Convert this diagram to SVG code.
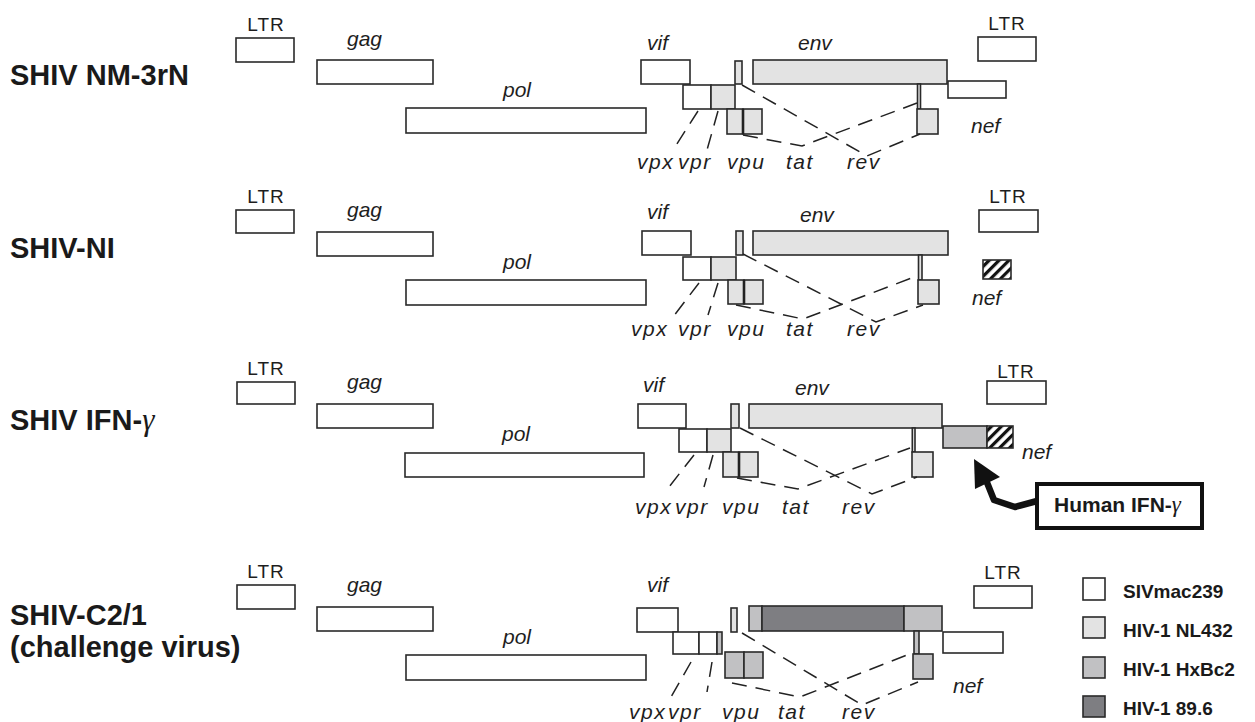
<svg xmlns="http://www.w3.org/2000/svg" width="1255" height="722" viewBox="0 0 1255 722">
<defs>
<style>
.bx{stroke:#2a2a2a;stroke-width:1.6}
.w{fill:#fff}.l{fill:#e3e3e3}.g{fill:#c1c1c3}.d{fill:#7e7e82}
.h{fill:url(#hatch)}
.dv{stroke:#222;stroke-width:2.6}
.dash{fill:none;stroke:#222;stroke-width:1.5;stroke-dasharray:15 9}
.it{font-family:"Liberation Sans",Arial,sans-serif;font-style:italic;font-size:21px;fill:#1e1e1e}
.sp{letter-spacing:1.5px}
.ltr{font-family:"Liberation Sans",Arial,sans-serif;font-size:19px;letter-spacing:1px;fill:#1e1e1e;text-anchor:middle}
.ttl{font-family:"Liberation Sans",Arial,sans-serif;font-weight:bold;font-size:29px;fill:#1a1a1a}
.leg{font-family:"Liberation Sans",Arial,sans-serif;font-weight:bold;font-size:19px;fill:#1a1a1a}
.gam{font-family:"Liberation Serif","Times New Roman",serif;font-style:italic;font-weight:normal}
</style>
<pattern id="hatch" patternUnits="userSpaceOnUse" width="7" height="7" patternTransform="rotate(45)">
<rect width="7" height="7" fill="#fff"/>
<rect width="3.2" height="7" fill="#111"/>
</pattern>
</defs>
<rect width="1255" height="722" fill="#fff"/>

<!-- Titles -->
<g id="title1"><text class="ttl" x="10" y="85">SHIV NM-3rN</text></g>
<g id="title2"><text class="ttl" x="10" y="258">SHIV-NI</text></g>
<g id="title3"><text class="ttl" x="10" y="430">SHIV IFN-<tspan class="gam" style="font-size:31px">γ</tspan></text></g>
<g id="title4"><text class="ttl" x="10" y="625">SHIV-C2/1</text><text class="ttl" x="10" y="657">(challenge virus)</text></g>

<!-- Panel 1 -->
<g id="p1">
<g id="p1-ltrL"><rect class="bx w" x="236" y="38" width="58" height="24"/><text class="ltr" x="266" y="31">LTR</text></g>
<g id="p1-gag"><rect class="bx w" x="317" y="60" width="116" height="24"/><text class="it" x="347" y="46">gag</text></g>
<g id="p1-pol"><rect class="bx w" x="406" y="108" width="240" height="25"/><text class="it" x="503" y="97">pol</text></g>
<g id="p1-vif"><rect class="bx w" x="641" y="60" width="49" height="24"/><text class="it" x="647" y="50">vif</text></g>
<g id="p1-vpx"><rect class="bx w" x="683" y="85" width="28" height="24"/></g>
<g id="p1-vpr"><rect class="bx l" x="711" y="85" width="24" height="24"/></g>
<g id="p1-ex1"><rect class="bx l" x="735" y="61" width="7" height="23"/></g>
<g id="p1-env"><rect class="bx l" x="753" y="60" width="194" height="24"/><text class="it" x="798" y="50">env</text></g>
<g id="p1-vpu"><rect class="bx l" x="727" y="109" width="16" height="25"/><rect class="bx l" x="743" y="109" width="19" height="25"/><line class="dv" x1="743" y1="109" x2="743" y2="134"/></g>
<g id="p1-ex2"><rect class="bx l" x="917.5" y="84" width="3" height="25"/><rect class="bx l" x="917" y="109" width="21" height="25"/></g>
<g id="p1-nef"><rect class="bx w" x="948" y="81" width="58" height="17"/><text class="it" x="971" y="133">nef</text></g>
<g id="p1-ltrR"><rect class="bx w" x="978" y="37" width="58" height="24"/><text class="ltr" x="1007" y="30">LTR</text></g>
<g id="p1-labels"><text class="it sp" x="637" y="169">vpx</text><text class="it sp" x="678" y="169">vpr</text><text class="it sp" x="727" y="169">vpu</text><text class="it sp" x="786" y="169">tat</text><text class="it sp" x="847" y="169">rev</text></g>
</g>

<!-- Panel 2 -->
<g id="p2">
<g id="p2-ltrL"><rect class="bx w" x="236" y="210" width="58" height="23"/><text class="ltr" x="266" y="203">LTR</text></g>
<g id="p2-gag"><rect class="bx w" x="317" y="232" width="116" height="24"/><text class="it" x="347" y="217">gag</text></g>
<g id="p2-pol"><rect class="bx w" x="406" y="280" width="240" height="25"/><text class="it" x="503" y="269">pol</text></g>
<g id="p2-vif"><rect class="bx w" x="642" y="231" width="49" height="24"/><text class="it" x="647" y="219">vif</text></g>
<g id="p2-vpx"><rect class="bx w" x="683" y="257" width="28" height="23"/></g>
<g id="p2-vpr"><rect class="bx l" x="711" y="257" width="25" height="23"/></g>
<g id="p2-ex1"><rect class="bx l" x="736" y="231" width="7" height="24"/></g>
<g id="p2-env"><rect class="bx l" x="753" y="231" width="195" height="24"/><text class="it" x="800" y="222">env</text></g>
<g id="p2-vpu"><rect class="bx l" x="728" y="280" width="16" height="24"/><rect class="bx l" x="744" y="280" width="19" height="24"/><line class="dv" x1="744" y1="280" x2="744" y2="304"/></g>
<g id="p2-ex2"><rect class="bx l" x="918.5" y="255" width="3.5" height="25"/><rect class="bx l" x="918" y="280" width="21" height="24"/></g>
<g id="p2-nef"><rect class="bx h" x="983" y="260" width="28" height="19"/><text class="it" x="972" y="305">nef</text></g>
<g id="p2-ltrR"><rect class="bx w" x="979" y="210" width="59" height="22"/><text class="ltr" x="1008" y="203">LTR</text></g>
<g id="p2-labels"><text class="it sp" x="631" y="336">vpx</text><text class="it sp" x="678" y="336">vpr</text><text class="it sp" x="727" y="336">vpu</text><text class="it sp" x="786" y="336">tat</text><text class="it sp" x="847" y="336">rev</text></g>
</g>

<!-- Panel 3 -->
<g id="p3">
<g id="p3-ltrL"><rect class="bx w" x="237" y="382" width="58" height="22"/><text class="ltr" x="266" y="375">LTR</text></g>
<g id="p3-gag"><rect class="bx w" x="317" y="404" width="116" height="24"/><text class="it" x="347" y="389">gag</text></g>
<g id="p3-pol"><rect class="bx w" x="405" y="453" width="239" height="24"/><text class="it" x="502" y="441">pol</text></g>
<g id="p3-vif"><rect class="bx w" x="638" y="404" width="48" height="24"/><text class="it" x="643" y="392">vif</text></g>
<g id="p3-vpx"><rect class="bx w" x="679" y="429" width="28" height="23"/></g>
<g id="p3-vpr"><rect class="bx l" x="707" y="429" width="24" height="23"/></g>
<g id="p3-ex1"><rect class="bx l" x="731" y="404" width="8" height="24"/></g>
<g id="p3-env"><rect class="bx l" x="749" y="404" width="193" height="24"/><text class="it" x="795" y="395">env</text></g>
<g id="p3-vpu"><rect class="bx l" x="723" y="452" width="16" height="25"/><rect class="bx l" x="739" y="452" width="19" height="25"/><line class="dv" x1="739" y1="452" x2="739" y2="477"/></g>
<g id="p3-ex2"><rect class="bx l" x="912.3" y="428" width="2.7" height="24"/><rect class="bx l" x="912" y="452" width="21" height="25"/></g>
<g id="p3-ifn"><rect class="bx g" x="943" y="426" width="44" height="22"/><rect class="bx h" x="987" y="426" width="26" height="22"/><text class="it" x="1022" y="459">nef</text></g>
<g id="p3-ltrR"><rect class="bx w" x="987" y="381" width="59" height="23"/><text class="ltr" x="1016" y="378">LTR</text></g>
<g id="p3-labels"><text class="it sp" x="635" y="514">vpx</text><text class="it sp" x="675" y="514">vpr</text><text class="it sp" x="722" y="514">vpu</text><text class="it sp" x="782" y="514">tat</text><text class="it sp" x="842" y="514">rev</text></g>
<g id="p3-callout"><rect x="1037" y="484" width="165" height="44" fill="#fff" stroke="#111" stroke-width="4"/><text class="leg" x="1054" y="512" style="font-size:21px">Human IFN-<tspan class="gam" style="font-size:23px">γ</tspan></text></g>
</g>

<!-- Panel 4 -->
<g id="p4">
<g id="p4-ltrL"><rect class="bx w" x="237" y="585" width="58" height="24"/><text class="ltr" x="266" y="578">LTR</text></g>
<g id="p4-gag"><rect class="bx w" x="317" y="607" width="116" height="24"/><text class="it" x="347" y="592">gag</text></g>
<g id="p4-pol"><rect class="bx w" x="406" y="655" width="240" height="25"/><text class="it" x="503" y="644">pol</text></g>
<g id="p4-vif"><rect class="bx w" x="637" y="608" width="41" height="24"/><text class="it" x="647" y="592">vif</text></g>
<g id="p4-vpx"><rect class="bx w" x="673" y="632" width="26" height="22"/></g>
<g id="p4-vpr"><rect class="bx w" x="699" y="632" width="18" height="22"/><rect class="bx g" x="717" y="632" width="5" height="22"/></g>
<g id="p4-ex1"><rect class="bx l" x="731" y="608" width="6" height="24"/></g>
<g id="p4-env"><rect class="bx g" x="749" y="606" width="13" height="25"/><rect class="bx d" x="762" y="606" width="142" height="25"/><rect class="bx g" x="904" y="606" width="38" height="25"/></g>
<g id="p4-vpu"><rect class="bx g" x="725" y="652" width="19" height="26"/><rect class="bx g" x="744" y="652" width="19" height="26"/></g>
<g id="p4-ex2"><rect class="bx g" x="914" y="631" width="5" height="23"/><rect class="bx g" x="913" y="654" width="20" height="25"/></g>
<g id="p4-nef"><rect class="bx w" x="943" y="632" width="60" height="21"/><text class="it" x="953" y="693">nef</text></g>
<g id="p4-ltrR"><rect class="bx w" x="974" y="586" width="58" height="22"/><text class="ltr" x="1003" y="579">LTR</text></g>
<g id="p4-labels"><text class="it sp" x="629" y="719">vpx</text><text class="it sp" x="668" y="719">vpr</text><text class="it sp" x="722" y="719">vpu</text><text class="it sp" x="778" y="719">tat</text><text class="it sp" x="842" y="719">rev</text></g>
</g>

<!-- Legend -->
<g id="legend">
<g id="leg-siv"><rect class="bx w" x="1083" y="578" width="22" height="22"/><text class="leg" x="1123" y="598">SIVmac239</text></g>
<g id="leg-nl"><rect class="bx l" x="1083" y="617" width="22" height="21"/><text class="leg" x="1123" y="637">HIV-1 NL432</text></g>
<g id="leg-hx"><rect class="bx g" x="1083" y="657" width="22" height="21"/><text class="leg" x="1123" y="676">HIV-1 HxBc2</text></g>
<g id="leg-89"><rect class="bx d" x="1083" y="696" width="22" height="21"/><text class="leg" x="1123" y="715">HIV-1 89.6</text></g>
</g>

<!-- Connectors -->
<g id="connectors">
<line class="dash" x1="698" y1="111" x2="673" y2="150"/>
<line class="dash" x1="718" y1="111" x2="707" y2="150"/>
<polyline class="dash" points="742,85 867,156 920,134"/>
<polyline class="dash" points="743,135 802,146 917,103"/>

<line class="dash" x1="699" y1="283" x2="673" y2="317"/>
<line class="dash" x1="718" y1="283" x2="708" y2="315"/>
<polyline class="dash" points="743,254 876,322 923,305"/>
<polyline class="dash" points="736,305 803,319 917,276"/>

<line class="dash" x1="694" y1="455" x2="669" y2="487"/>
<line class="dash" x1="713" y1="455" x2="704" y2="487"/>
<polyline class="dash" points="740,428 872,494 917,477"/>
<polyline class="dash" points="737,478 798,489 910,448"/>

<line class="dash" x1="691" y1="662" x2="671" y2="697"/>
<line class="dash" x1="712" y1="662" x2="707" y2="692"/>
<polyline class="dash" points="742,633 862,705 918,682"/>
<polyline class="dash" points="732,683 800,697 912,653"/>

<g id="ifn-arrow">
<polyline points="986,480 994,500 1015,507 1037,501" fill="none" stroke="#111" stroke-width="6.5" stroke-linejoin="round"/>
<polygon points="974,459 975,489 1000,477" fill="#111"/>
</g>
</g>
</svg>
